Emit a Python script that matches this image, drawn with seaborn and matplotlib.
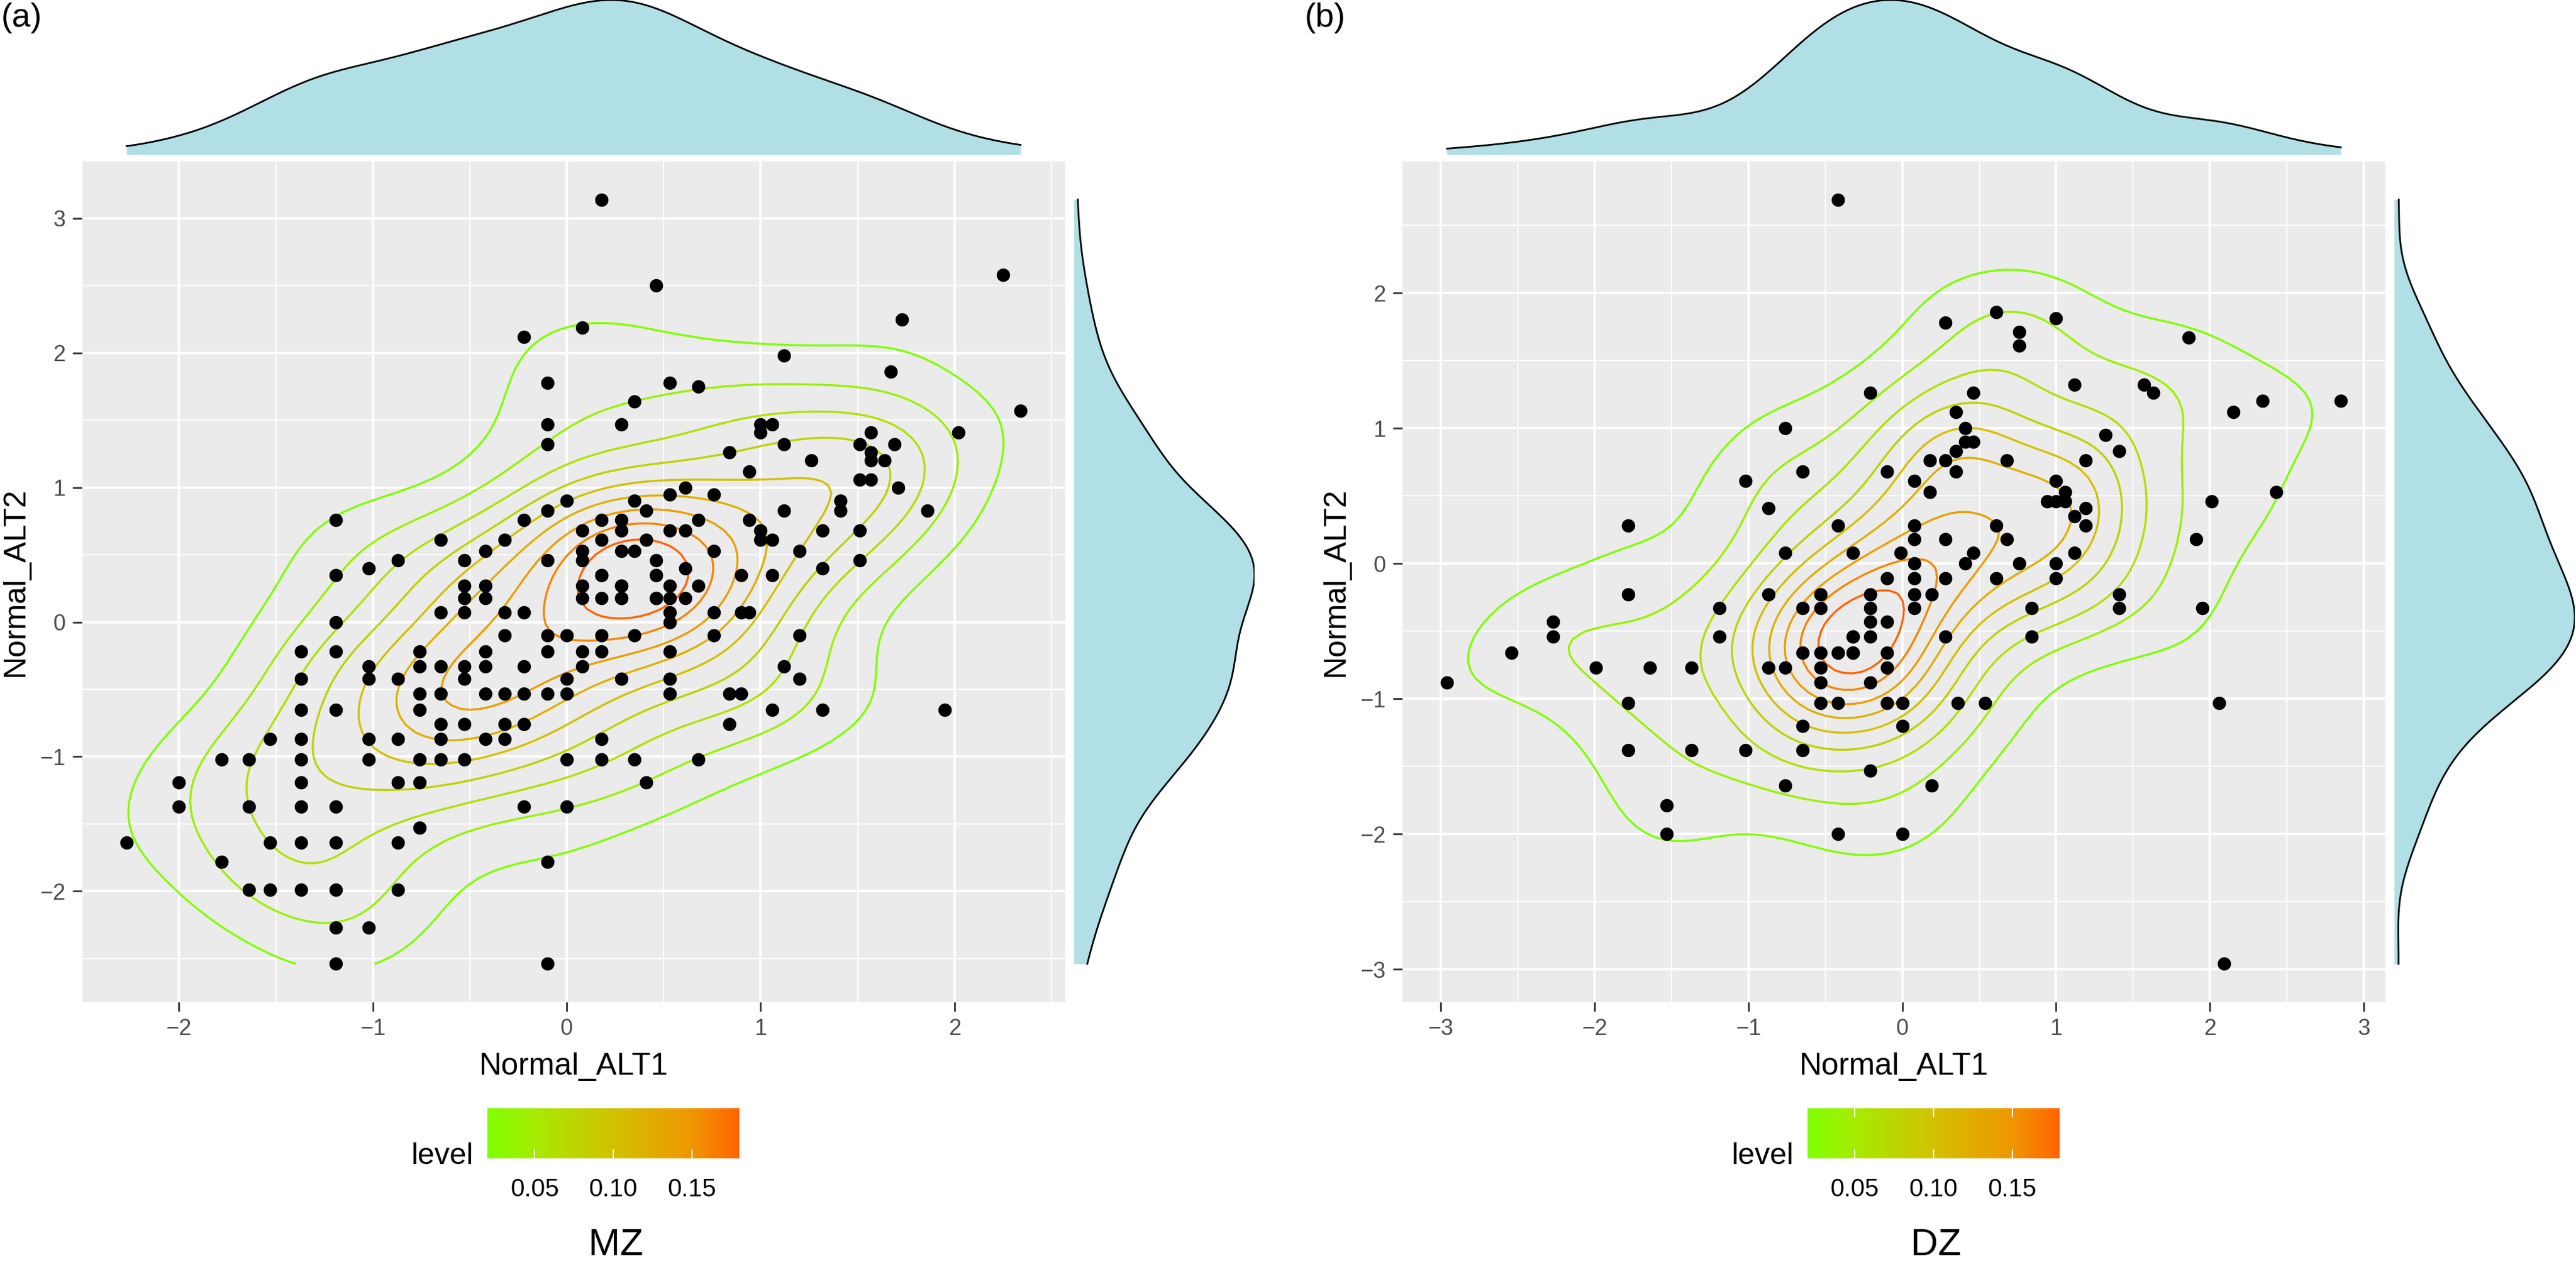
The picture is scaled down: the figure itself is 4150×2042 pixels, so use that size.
import numpy as np
import matplotlib
matplotlib.use('Agg')
import matplotlib.pyplot as plt
from matplotlib.colors import LinearSegmentedColormap, Normalize
from matplotlib.cm import ScalarMappable
from matplotlib.ticker import MultipleLocator, FormatStrFormatter
import seaborn as sns


# MZ twins: normal scores of ALT1 / ALT2
MZ_ALT1 = [
    -0.22, -0.10, -0.10, -0.10, -1.19, 0.00, -0.10, -0.22, -0.65, -0.32,
    -0.42, -0.87, -0.53, -0.10, -1.02, -1.19, -0.53, -0.42,
    -0.53, -0.42, -0.65, -0.53, -0.32, -0.22, -1.19, -0.32, -0.10, 0.00,
    -1.37, -1.19, -0.76, -0.42, -0.10, -1.02, -0.76, -0.65, -0.53, -0.42,
    -0.22, -1.37, -1.02, -0.87, -0.53, 0.00, -0.76, -0.65, -0.42, -0.32,
    -0.22, -0.10, 0.00, -1.37, -1.19, -0.76, -0.65, -0.53, -0.32, -0.22,
    -1.53, -1.37, -1.02, -0.87, -0.65, -0.42, -0.32, -1.78, -1.64, -1.37,
    -1.02, -0.76, -0.65, -0.53, 0.00, -2.00, -1.37, -0.87, -0.76, -2.00,
    -1.64, -1.37, -1.19, -0.22, 0.00, -0.76, -2.27, -1.53, -1.37, -1.19,
    -0.87, -1.78, -0.10, -1.64, -1.53, -1.37, -1.19, -0.87, -1.19, -1.02,
    -1.19, -0.10,
    0.08, 0.18, 0.28, 0.46, 0.53, 0.61, 0.53, 0.76, 0.90, 0.94,
    0.53, 0.18, 0.35, 0.76, 1.20, 0.08, 0.18, 0.53, 0.08, 1.12,
    0.28, 0.53, 1.20, 0.53, 0.84, 0.90, 1.06, 1.32, 1.95, 0.84,
    0.18, 0.18, 0.35, 0.68, 0.41,
    0.18, 2.25, 0.46, 1.73, 0.08, 1.12, 1.67, 0.53, 0.68, 0.35,
    2.34, 0.28, 1.00, 1.06, 1.00, 1.57, 2.02, 1.12, 1.51, 1.69,
    1.57, 1.57, 1.64, 0.84, 1.26, 0.94, 1.51, 1.57, 1.71, 0.35,
    0.53, 0.61, 0.76, 1.41, 1.41, 0.41, 1.12, 1.86, 0.18, 0.28,
    0.68, 0.94, 0.08, 0.28, 0.53, 0.61, 1.00, 1.32, 1.51, 0.18,
    0.41, 1.00, 1.06, 0.08, 0.28, 0.35, 0.76, 1.20, 0.08, 0.46,
    1.51, 1.32, 0.61, 0.18, 0.46, 0.90, 1.06, 0.08, 0.28, 0.53,
    0.68,
    # tied pairs hidden under visible dots (implied by the 0.18 contour)
    0.28, 0.28, 0.46, 0.18, 0.46,
]
MZ_ALT2 = [
    2.12, 1.78, 1.47, 1.32, 0.76, 0.90, 0.83, 0.76, 0.61, 0.61,
    0.53, 0.46, 0.46, 0.46, 0.40, 0.35, 0.27, 0.27,
    0.18, 0.18, 0.07, 0.07, 0.07, 0.07, 0.00, -0.10, -0.10, -0.10,
    -0.22, -0.22, -0.22, -0.22, -0.22, -0.33, -0.33, -0.33, -0.33, -0.33,
    -0.33, -0.42, -0.42, -0.42, -0.42, -0.42, -0.53, -0.53, -0.53, -0.53,
    -0.53, -0.53, -0.53, -0.65, -0.65, -0.65, -0.76, -0.76, -0.76, -0.76,
    -0.87, -0.87, -0.87, -0.87, -0.87, -0.87, -0.87, -1.02, -1.02, -1.02,
    -1.02, -1.02, -1.02, -1.02, -1.02, -1.19, -1.19, -1.19, -1.19, -1.37,
    -1.37, -1.37, -1.37, -1.37, -1.37, -1.53, -1.64, -1.64, -1.64, -1.64,
    -1.64, -1.78, -1.78, -1.99, -1.99, -1.99, -1.99, -1.99, -2.27, -2.27,
    -2.54, -2.54,
    0.18, 0.18, 0.18, 0.18, 0.18, 0.18, 0.07, 0.07, 0.07, 0.07,
    0.00, -0.10, -0.10, -0.10, -0.10, -0.22, -0.22, -0.22, -0.33, -0.33,
    -0.42, -0.42, -0.42, -0.53, -0.53, -0.53, -0.65, -0.65, -0.65, -0.76,
    -0.87, -1.02, -1.02, -1.02, -1.19,
    3.14, 2.58, 2.50, 2.25, 2.19, 1.98, 1.86, 1.78, 1.75, 1.64,
    1.57, 1.47, 1.47, 1.47, 1.41, 1.41, 1.41, 1.32, 1.32, 1.32,
    1.26, 1.20, 1.20, 1.26, 1.20, 1.12, 1.06, 1.06, 1.00, 0.90,
    0.95, 1.00, 0.95, 0.90, 0.83, 0.83, 0.83, 0.83, 0.76, 0.76,
    0.76, 0.76, 0.68, 0.68, 0.68, 0.68, 0.68, 0.68, 0.68, 0.61,
    0.61, 0.61, 0.61, 0.53, 0.53, 0.53, 0.53, 0.53, 0.46, 0.46,
    0.46, 0.40, 0.40, 0.35, 0.35, 0.35, 0.35, 0.27, 0.27, 0.27,
    0.27,
    0.27, 0.18, 0.18, 0.35, 0.35,
]

# DZ twins
DZ_ALT1 = [
    -0.42, -0.21, -0.76, -0.65, -0.10, -1.02, -0.87, -1.78, -0.42, -0.76,
    -0.32,
    0.28, 0.61, 1.00, 0.76, 0.76, 1.86, 1.12, 1.57, 1.63, 0.46,
    2.15, 2.34, 2.85, 0.35, 0.41, 0.41, 0.46, 0.35, 1.32, 1.41,
    0.18, 0.28, 0.68, 1.19, 0.35, 0.08, 1.00, 0.18, 1.06, 0.94,
    1.00, 1.06, 1.19, 1.12, 1.19, 2.43, 2.01, 1.91, 0.08, 0.61,
    0.08, 0.28, 0.68, -0.01, 0.46, 1.12, 0.08, 0.41, 0.76, 1.00,
    -1.78, -1.19, -0.87, -0.53, -0.21, -0.10, -2.27, -2.27, -0.65, -0.53,
    -0.21, -0.21, -0.10, -1.19, -0.32, -0.21, -2.54, -0.65, -0.53, -0.42,
    -0.32, -0.10, -1.99, -1.64, -1.37, -0.87, -0.76, -0.53, -0.10, -2.96,
    -0.53, -0.21, -1.78, -0.53, -0.42, -0.10, -0.65, -1.78, -1.37, -1.02,
    -0.65, -0.21, -0.76, -1.53, -1.53, -0.42,
    0.08, 0.28, 0.61, 1.00, 0.08, 0.19, 1.41, 0.08, 0.84, 1.41,
    1.95, 0.28, 0.84, 0.00, 0.36, 0.54, 2.06, 0.00, 0.19, 0.00,
    2.09,
    # tied pairs hidden under visible dots
    -0.32, -0.32, -0.42,
]
DZ_ALT2 = [
    2.69, 1.26, 1.00, 0.68, 0.68, 0.61, 0.41, 0.28, 0.28, 0.08,
    0.08,
    1.78, 1.86, 1.81, 1.71, 1.61, 1.67, 1.32, 1.32, 1.26, 1.26,
    1.12, 1.20, 1.20, 1.12, 1.00, 0.90, 0.90, 0.83, 0.95, 0.83,
    0.76, 0.76, 0.76, 0.76, 0.68, 0.61, 0.61, 0.53, 0.53, 0.46,
    0.46, 0.46, 0.41, 0.35, 0.28, 0.53, 0.46, 0.18, 0.28, 0.28,
    0.18, 0.18, 0.18, 0.08, 0.08, 0.08, 0.00, 0.00, 0.00, 0.00,
    -0.23, -0.33, -0.23, -0.23, -0.23, -0.11, -0.43, -0.54, -0.33, -0.33,
    -0.33, -0.43, -0.43, -0.54, -0.54, -0.54, -0.66, -0.66, -0.66, -0.66,
    -0.66, -0.66, -0.77, -0.77, -0.77, -0.77, -0.77, -0.77, -0.77, -0.88,
    -0.88, -0.88, -1.03, -1.03, -1.03, -1.03, -1.20, -1.38, -1.38, -1.38,
    -1.38, -1.53, -1.64, -1.79, -2.00, -2.00,
    -0.11, -0.11, -0.11, -0.11, -0.23, -0.23, -0.23, -0.33, -0.33, -0.33,
    -0.33, -0.54, -0.54, -1.03, -1.03, -1.03, -1.03, -1.20, -1.64, -2.00,
    -2.96,
    -0.66, -0.54, -0.66,
]

LEVELS = [0.02, 0.04, 0.06, 0.08, 0.10, 0.12, 0.14, 0.16, 0.18]
LEVEL_TICKS = [0.05, 0.10, 0.15]

W, H = 4150, 2042
DPI = 200
FILL = '#B0DFE5'
PANEL_BG = '#EBEBEB'

cmap = LinearSegmentedColormap.from_list('level', [
    (0.0, '#7FFF00'), (0.19, '#A6EA00'), (0.5, '#D2C100'),
    (0.81, '#EF9700'), (1.0, '#FF6400')])
norm = Normalize(vmin=0.02, vmax=0.18)

plt.rcParams['font.family'] = ['Liberation Sans', 'DejaVu Sans']


def box(x0, y0, x1, y1):
    # pixel box (top-left origin) -> figure fraction rect
    return [x0 / W, 1 - y1 / H, (x1 - x0) / W, (y1 - y0) / H]


def kde2d(x, y, n=100):
    # same as MASS::kde2d with bandwidth.nrd, as ggplot's stat_density_2d
    def sd_kernel(v):
        q75, q25 = np.percentile(v, [75, 25])
        return 1.06 * min(np.std(v, ddof=1), (q75 - q25) / 1.34) * len(v) ** -0.2
    gx = np.linspace(x.min(), x.max(), n)
    gy = np.linspace(y.min(), y.max(), n)
    hx, hy = sd_kernel(x), sd_kernel(y)
    kx = np.exp(-0.5 * ((gx[:, None] - x[None, :]) / hx) ** 2) / (hx * np.sqrt(2 * np.pi))
    ky = np.exp(-0.5 * ((gy[:, None] - y[None, :]) / hy) ** 2) / (hy * np.sqrt(2 * np.pi))
    z = ky @ kx.T / len(x)
    return gx, gy, z


def nrd0_adjust(v):
    q75, q25 = np.percentile(v, [75, 25])
    sd = np.std(v, ddof=1)
    return 0.9 * min(sd, (q75 - q25) / 1.34) / sd


def expand(v):
    lo, hi = v.min(), v.max()
    r = hi - lo
    return lo - 0.05 * r, hi + 0.05 * r


def draw_panel(fig, alt1, alt2, dx, tag, tag_x, title):
    x = np.array(alt1)
    y = np.array(alt2)
    xlim, ylim = expand(x), expand(y)

    ax = fig.add_axes(box(132 + dx, 260, 1716 + dx, 1615))
    ax.set_facecolor(PANEL_BG)
    for s in ax.spines.values():
        s.set_visible(False)
    ax.xaxis.set_major_locator(MultipleLocator(1))
    ax.xaxis.set_minor_locator(MultipleLocator(0.5))
    ax.yaxis.set_major_locator(MultipleLocator(1))
    ax.yaxis.set_minor_locator(MultipleLocator(0.5))
    ax.grid(which='major', color='white', linewidth=1.3)
    ax.grid(which='minor', color='white', linewidth=0.65)
    ax.set_axisbelow(True)
    ax.tick_params(which='major', length=5.5, width=1.0, color='#333333',
                   labelcolor='#4D4D4D', labelsize=13, pad=4)
    ax.tick_params(which='minor', length=0)

    gx, gy, z = kde2d(x, y)
    ax.contour(gx, gy, z, levels=LEVELS, cmap=cmap, norm=norm,
               linewidths=1.2, zorder=2)
    sns.scatterplot(x=x, y=y, ax=ax, color='black', s=60, linewidth=0,
                    zorder=3)
    ax.set_xlim(xlim)
    ax.set_ylim(ylim)
    ax.set_xlabel('Normal_ALT1', fontsize=18, labelpad=7)
    ax.set_ylabel('Normal_ALT2', fontsize=18, labelpad=6)

    # marginal densities
    axt = fig.add_axes(box(132 + dx, 0, 1716 + dx, 249))
    axt.margins(x=0, y=0)
    adj = nrd0_adjust(x)
    sns.kdeplot(x=x, ax=axt, fill=True, color=FILL, alpha=1, linewidth=0,
                cut=0, bw_adjust=adj)
    sns.kdeplot(x=x, ax=axt, color='black', linewidth=1.0, cut=0,
                bw_adjust=adj)
    axt.set_xlim(xlim)
    axt.set_ylim(0, axt.get_ylim()[1])
    axt.axis('off')

    axr = fig.add_axes(box(1730 + dx, 260, 2021 + dx, 1615))
    axr.margins(x=0, y=0)
    adj = nrd0_adjust(y)
    sns.kdeplot(y=y, ax=axr, fill=True, color=FILL, alpha=1, linewidth=0,
                cut=0, bw_adjust=adj)
    sns.kdeplot(y=y, ax=axr, color='black', linewidth=1.0, cut=0,
                bw_adjust=adj)
    axr.set_ylim(ylim)
    axr.set_xlim(0, axr.get_xlim()[1])
    axr.axis('off')

    # colour legend
    cax = fig.add_axes(box(785 + dx, 1786, 1191 + dx, 1867))
    cb = fig.colorbar(ScalarMappable(norm=norm, cmap=cmap), cax=cax,
                      orientation='horizontal')
    cb.outline.set_visible(False)
    cb.set_ticks(LEVEL_TICKS)
    cax.xaxis.set_major_formatter(FormatStrFormatter('%.2f'))
    cax.tick_params(direction='in', top=True, bottom=True, color='white',
                    length=5.5, width=0.7, labelsize=14.5, pad=11,
                    labelcolor='black')
    cax.minorticks_off()
    fig.text((763 + dx) / W, 1 - 1863 / H, 'level', ha='right',
             va='center', fontsize=17.5)

    fig.text(tag_x / W, 1 - 4 / H, tag, ha='left', va='top', fontsize=19.5)
    fig.text((992 + dx) / W, 6 / H, title, ha='center', va='bottom',
             fontsize=22)


fig = plt.figure(figsize=(W / DPI, H / DPI), dpi=DPI)
draw_panel(fig, MZ_ALT1, MZ_ALT2, 0, '(a)', 2, 'MZ')
draw_panel(fig, DZ_ALT1, DZ_ALT2, 2127, '(b)', 2102, 'DZ')
fig.savefig('out.png', dpi=DPI)
